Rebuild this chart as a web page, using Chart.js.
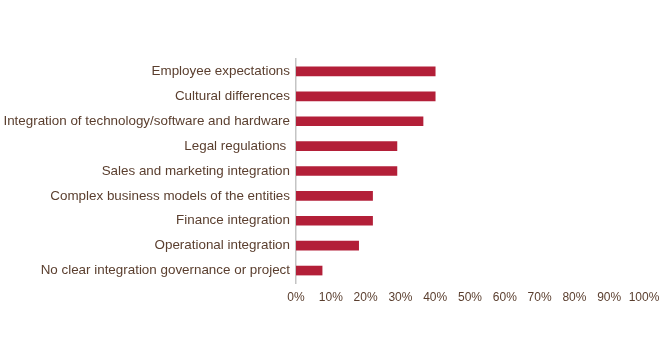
<!DOCTYPE html>
<html>
<head>
<meta charset="utf-8">
<script src="https://cdn.jsdelivr.net/npm/chart.js@4"></script>
<style>
html,body{margin:0;padding:0;background:#fff;}
#wrap{width:672px;height:360px;}
</style>
</head>
<body>
<div id="wrap"><canvas id="c" width="672" height="360"></canvas></div>
<script>
const categories = [
  "Employee expectations",
  "Cultural differences",
  "Integration of technology/software and hardware",
  "Legal regulations ",
  "Sales and marketing integration",
  "Complex business models of the entities",
  "Finance integration",
  "Operational integration",
  "No clear integration governance or project"
];
const values = [40, 40, 36.5, 29, 29, 22, 22, 18, 7.5];
const tickValues = [0,10,20,30,40,50,60,70,80,90,100];

const textColor = '#5a3e2e';
new Chart(document.getElementById('c'), {
  type: 'bar',
  data: {
    labels: categories,
    datasets: [{
      data: values,
      backgroundColor: '#b31f38',
      borderWidth: 0,
      barThickness: 9
    }]
  },
  options: {
    indexAxis: 'y',
    responsive: false,
    animation: false,
    devicePixelRatio: 1,
    layout: { padding: { top: 59, right: 28, left: 0, bottom: 0 } },
    plugins: { legend: { display: false }, tooltip: { enabled: false } },
    scales: {
      x: {
        min: 0, max: 100,
        afterBuildTicks: (s) => { s.ticks = tickValues.map(v => ({ value: v })); },
        afterFit: (s) => { s.height = 77; },
        grid: { display: false, drawTicks: false },
        border: { display: false },
        ticks: {
          padding: 7,
          color: textColor,
          font: { family: 'Liberation Sans, Arial, sans-serif', size: 12 },
          callback: (v) => v + '%',
          maxRotation: 0,
          autoSkip: false
        }
      },
      y: {
        afterFit: (s) => { s.width = 296; },
        grid: { display: false, drawTicks: false },
        border: { display: true, color: '#c4c4c4', width: 1.5 },
        ticks: {
          padding: 6,
          color: textColor,
          font: { family: 'Liberation Sans, Arial, sans-serif', size: 13.4 },
          autoSkip: false
        }
      }
    }
  }
});
</script>
</body>
</html>
